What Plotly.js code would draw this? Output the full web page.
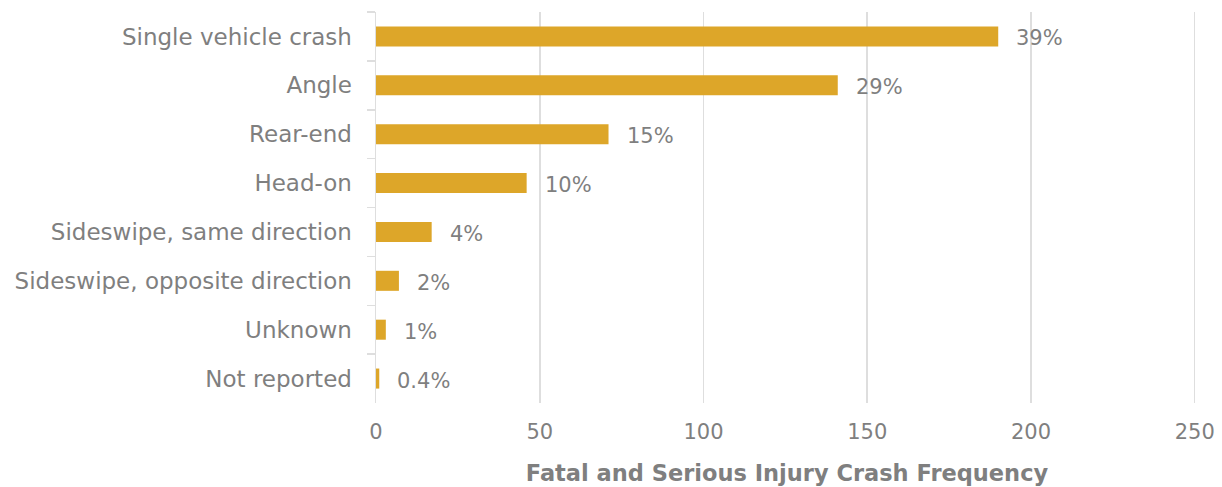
<!DOCTYPE html>
<html>
<head>
<meta charset="utf-8">
<script src="https://cdn.plot.ly/plotly-3.0.1.min.js"></script>
<style>
html,body{margin:0;padding:0;background:#fff;}
#chart{width:1222px;height:487px;}
</style>
</head>
<body>
<div id="chart"></div>
<script>
const categories = [
  "Single vehicle crash",
  "Angle",
  "Rear-end",
  "Head-on",
  "Sideswipe, same direction",
  "Sideswipe, opposite direction",
  "Unknown",
  "Not reported"
];
const frequencies = [190, 141, 71, 46, 17, 7, 3, 1];
const shareLabels = ["39%", "29%", "15%", "10%", "4%", "2%", "1%", "0.4%"];
const xTicks = [0, 50, 100, 150, 200, 250];

const FONT = "DejaVu Sans, sans-serif";
const GRAY = "#7f7f7f";
const LINE = "#dedede";

const trace = {
  type: "bar",
  orientation: "h",
  y: categories,
  x: frequencies,
  marker: {color: "#DDA629"},
  hoverinfo: "skip"
};

const annotations = categories.map((c, i) => ({
  x: frequencies[i],
  y: c,
  xref: "x",
  yref: "y",
  text: shareLabels[i],
  showarrow: false,
  xanchor: "left",
  yanchor: "middle",
  xshift: 16,
  yshift: -2,
  font: {family: FONT, size: 21, color: GRAY}
}));

const layout = {
  width: 1222,
  height: 487,
  margin: {l: 376, r: 24, t: 12, b: 84},
  paper_bgcolor: "#fff",
  plot_bgcolor: "#fff",
  showlegend: false,
  bargap: 0.59,
  font: {family: FONT, size: 20, color: GRAY},
  xaxis: {
    range: [0, 251],
    tickvals: xTicks,
    ticktext: xTicks.map(String),
    showgrid: true,
    gridcolor: LINE,
    gridwidth: 1.5,
    zeroline: false,
    showline: false,
    ticks: "",
    ticklabelstandoff: 14,
    tickfont: {family: FONT, size: 21, color: GRAY},
    title: {
      text: "<b>Fatal and Serious Injury Crash Frequency</b>",
      font: {family: FONT, size: 22.5, color: GRAY},
      standoff: 22
    },
    fixedrange: true
  },
  yaxis: {
    type: "category",
    autorange: "reversed",
    showline: true,
    linecolor: LINE,
    linewidth: 1.5,
    ticks: "outside",
    tickson: "boundaries",
    ticklen: 8,
    tickwidth: 1.5,
    tickcolor: LINE,
    ticklabelstandoff: 18,
    showgrid: false,
    tickfont: {family: FONT, size: 23, color: GRAY},
    fixedrange: true
  },
  annotations: annotations
};

Plotly.newPlot("chart", [trace], layout, {displayModeBar: false, staticPlot: true});
</script>
</body>
</html>
